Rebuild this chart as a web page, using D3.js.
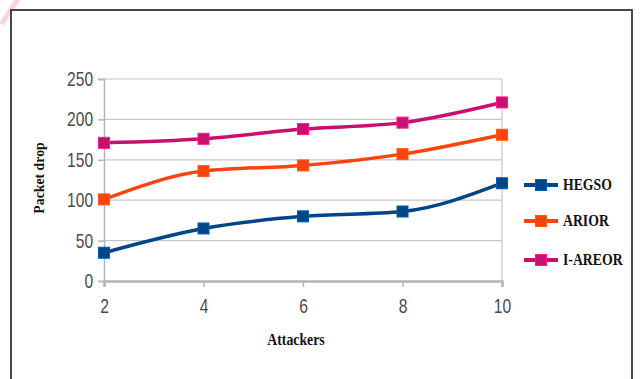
<!DOCTYPE html>
<html>
<head>
<meta charset="utf-8">
<script src="https://cdn.jsdelivr.net/npm/d3@7"></script>
<style>
  html, body { margin: 0; padding: 0; background: #fff; }
  svg { display: block; }
</style>
</head>
<body>
<svg id="chart" width="641" height="379"></svg>
<script>
// Packet drop versus number of attackers for three routing schemes
const attackers = [2, 4, 6, 8, 10];
const hegso  = [35, 65, 80, 86, 121];
const arior  = [101, 136, 143, 157, 181];
const iareor = [171, 176, 188, 196, 221];
const seriesNames = ["HEGSO", "ARIOR", "I-AREOR"];
const seriesColors = ["#004586", "#ff420e", "#c8106e"];
const yTicks = [0, 50, 100, 150, 200, 250];

const series = [hegso, arior, iareor].map((vals, i) => ({
  name: seriesNames[i],
  color: seriesColors[i],
  points: attackers.map((a, j) => ({ x: a, y: vals[j] }))
}));

const svg = d3.select("#chart");

// faint pink stroke in the top-left corner
svg.append("path")
  .attr("d", "M0,22 L14,0 L20,0 L3,26 Z")
  .attr("fill", "#ffc8cc")
  .attr("opacity", 0.8);

// outer frame
svg.append("rect")
  .attr("x", 11).attr("y", 10)
  .attr("width", 621).attr("height", 380)
  .attr("fill", "none")
  .attr("stroke", "#333")
  .attr("stroke-width", 1.8);

const x = d3.scaleLinear().domain([2, 10]).range([104, 502]);
const y = d3.scaleLinear().domain([0, 250]).range([281, 79]);

// horizontal grid
svg.append("g")
  .selectAll("line")
  .data(yTicks.filter(t => t > 0))
  .join("line")
  .attr("x1", x(2)).attr("x2", x(10))
  .attr("y1", d => y(d)).attr("y2", d => y(d))
  .attr("stroke", "#c6c6c6")
  .attr("stroke-width", 1.2);

// right edge of plot area
svg.append("line")
  .attr("x1", x(10)).attr("x2", x(10))
  .attr("y1", y(250)).attr("y2", y(0))
  .attr("stroke", "#c6c6c6")
  .attr("stroke-width", 1.2);

const tickFont = "'Liberation Sans', Arial, sans-serif";
// tick labels use a tall, narrow face: scale glyphs horizontally
const narrow = "scale(0.78,1)";

// y axis
const yAxis = svg.append("g")
  .attr("transform", `translate(${x(2)},0)`)
  .call(d3.axisLeft(y).tickValues(yTicks).tickSize(6).tickPadding(8));
yAxis.select(".domain").attr("stroke", "#b4b4b4").attr("stroke-width", 1.5);
yAxis.selectAll(".tick line").attr("stroke", "#b4b4b4").attr("stroke-width", 1.5);
yAxis.selectAll(".tick text")
  .attr("fill", "#4a4a4a")
  .attr("transform", narrow)
  .style("font-family", tickFont)
  .style("font-size", "20px");

// x axis
const xAxis = svg.append("g")
  .attr("transform", `translate(0,${y(0)})`)
  .call(d3.axisBottom(x).tickValues(attackers).tickSize(6).tickPadding(12));
xAxis.select(".domain").attr("stroke", "#b4b4b4").attr("stroke-width", 2.5);
xAxis.selectAll(".tick line").attr("stroke", "#b4b4b4").attr("stroke-width", 1.5);
xAxis.selectAll(".tick text")
  .attr("fill", "#4a4a4a")
  .attr("transform", narrow)
  .style("font-family", tickFont)
  .style("font-size", "20px");

// axis titles (bold serif, slightly condensed)
const titleFont = "'Liberation Serif', 'Times New Roman', serif";
const titleNarrow = "scale(0.86,1)";
svg.append("text")
  .attr("transform", `translate(296,345) ${titleNarrow}`)
  .attr("text-anchor", "middle")
  .style("font-family", titleFont)
  .style("font-weight", "bold")
  .style("font-size", "16px")
  .attr("fill", "#111")
  .text("Attackers");

svg.append("text")
  .attr("transform", "translate(44,178) rotate(-90) scale(0.92,1)")
  .attr("text-anchor", "middle")
  .style("font-family", titleFont)
  .style("font-weight", "bold")
  .style("font-size", "15px")
  .attr("fill", "#111")
  .text("Packet drop");

// series lines and markers
const line = d3.line()
  .x(d => x(d.x))
  .y(d => y(d.y))
  .curve(d3.curveMonotoneX);

const ms = 11;
series.forEach(s => {
  svg.append("path")
    .datum(s.points)
    .attr("d", line)
    .attr("fill", "none")
    .attr("stroke", s.color)
    .attr("stroke-width", 3.5);

  svg.append("g")
    .selectAll("rect")
    .data(s.points)
    .join("rect")
    .attr("x", d => x(d.x) - ms / 2)
    .attr("y", d => y(d.y) - ms / 2)
    .attr("width", ms).attr("height", ms)
    .attr("fill", s.color)
    .attr("stroke", d3.color(s.color).brighter(0.8))
    .attr("stroke-width", 1);
});

// legend
const legendY = [185, 221, 260];
const legend = svg.append("g");
series.forEach((s, i) => {
  const g = legend.append("g").attr("transform", `translate(0,${legendY[i]})`);
  g.append("line")
    .attr("x1", 524).attr("x2", 558)
    .attr("stroke", s.color)
    .attr("stroke-width", 4);
  g.append("rect")
    .attr("x", 541 - ms / 2).attr("y", -ms / 2)
    .attr("width", ms).attr("height", ms)
    .attr("fill", s.color)
    .attr("stroke", d3.color(s.color).brighter(0.8))
    .attr("stroke-width", 1);
  g.append("text")
    .attr("transform", `translate(563,5) ${titleNarrow}`)
    .style("font-family", titleFont)
    .style("font-weight", "bold")
    .style("font-size", "16px")
    .attr("fill", "#111")
    .text(s.name);
});
</script>
</body>
</html>
